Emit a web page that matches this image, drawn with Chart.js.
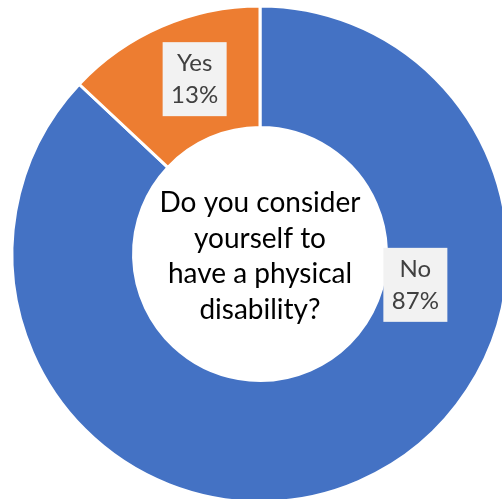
<!DOCTYPE html>
<html>
<head>
<meta charset="utf-8">
<script src="https://cdn.jsdelivr.net/npm/chart.js@4"></script>
<style>
    html, body { margin: 0; padding: 0; background: #fff; overflow: hidden; }
    #wrap { width: 502px; height: 499px; overflow: hidden; position: relative; }
    canvas { position: absolute; left: 0; top: 0; }
</style>
</head>
<body>
<div id="wrap"><canvas id="chart" width="520" height="508"></canvas></div>
<script>
const categories = ['No', 'Yes'];
const shares = [87, 13];
const sliceColors = ['#4472C4', '#ED7D31'];
const centerLines = ['Do you consider', 'yourself to', 'have a physical', 'disability?'];

// label boxes are nudged the way Excel placed them
const labelShift = [[81, -141], [9, -3]];

const sliceLabels = {
    id: 'sliceLabels',
    afterDatasetsDraw(chart) {
        const ctx = chart.ctx;
        const meta = chart.getDatasetMeta(0);
        ctx.save();
        ctx.font = '24px Lato';
        ctx.textAlign = 'center';
        ctx.textBaseline = 'middle';
        meta.data.forEach((arc, i) => {
            const { x, y, startAngle, endAngle, innerRadius, outerRadius } = arc.getProps(['x', 'y', 'startAngle', 'endAngle', 'innerRadius', 'outerRadius'], true);
            const mid = (startAngle + endAngle) / 2;
            const r = (innerRadius + outerRadius) / 2;
            const cx = x + Math.cos(mid) * r + labelShift[i][0];
            const cy = y + Math.sin(mid) * r + labelShift[i][1];
            ctx.fillStyle = '#F2F2F2';
            ctx.fillRect(cx - 32, cy - 37, 64, 74);
            ctx.fillStyle = '#404040';
            ctx.fillText(categories[i], cx, cy - 16);
            ctx.fillText(shares[i] + '%', cx, cy + 16);
        });

        // question in the hole
        const c = meta.data[0];
        ctx.fillStyle = '#000';
        ctx.font = '28px Lato';
        centerLines.forEach((line, k) => {
            ctx.fillText(line, c.x, c.y - 51 + k * 35.7);
        });
        ctx.restore();
    }
};

new Chart(document.getElementById('chart'), {
    type: 'doughnut',
    data: {
        labels: categories,
        datasets: [{
            data: shares,
            backgroundColor: sliceColors,
            borderColor: '#fff',
            borderWidth: 3,
            hoverOffset: 0
        }]
    },
    options: {
        responsive: false,
        animation: false,
        cutout: '51%',
        layout: { padding: { top: 4.5, bottom: 4.5 } },
        plugins: {
            legend: { display: false },
            tooltip: { enabled: false }
        }
    },
    plugins: [sliceLabels]
});
</script>
</body>
</html>
